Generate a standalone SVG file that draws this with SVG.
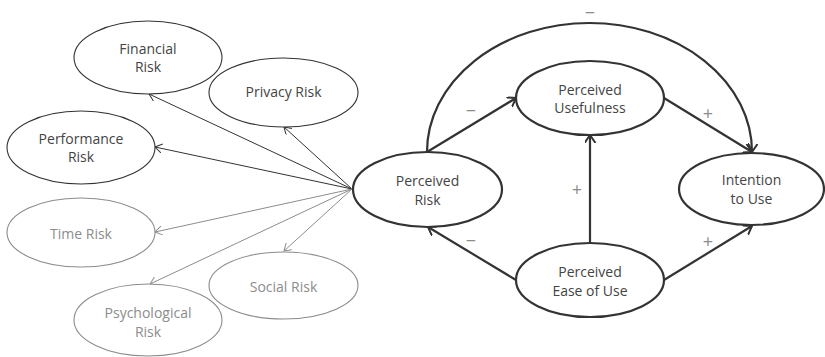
<svg xmlns="http://www.w3.org/2000/svg" width="825" height="357" viewBox="0 0 825 357">
<style>
text{font-family:"Open Sans","Noto Sans",sans-serif;font-size:14px;text-anchor:middle}
.dk{fill:#444}
.gy{fill:#8c8c8c}
.e1{fill:#fff;stroke:#333;stroke-width:1.1}
.e1g{fill:#fff;stroke:#8c8c8c;stroke-width:1.1}
.e2{fill:#fff;stroke:#333;stroke-width:2.2}
.l1{fill:none;stroke:#333;stroke-width:1}
.l1g{fill:none;stroke:#8c8c8c;stroke-width:1}
.l2{fill:none;stroke:#333;stroke-width:2.2}
.sg{fill:#8c8c8c;font-size:18px}
</style>
<defs>
<marker id="ad" markerUnits="userSpaceOnUse" markerWidth="12" markerHeight="12" refX="7" refY="4.5" orient="auto"><path d="M0,0 L7,4.5 L0,9" fill="none" stroke="#333" stroke-width="1"/></marker>
<marker id="ag" markerUnits="userSpaceOnUse" markerWidth="12" markerHeight="12" refX="7" refY="4.5" orient="auto"><path d="M0,0 L7,4.5 L0,9" fill="none" stroke="#8c8c8c" stroke-width="1"/></marker>
<marker id="at" markerUnits="userSpaceOnUse" markerWidth="14" markerHeight="14" refX="8" refY="5.5" orient="auto"><path d="M0,0 L8,5.5 L0,11" fill="none" stroke="#333" stroke-width="2"/></marker>
</defs>
<g id="connectors">
<line class="l1" x1="352" y1="189" x2="149" y2="94" marker-end="url(#ad)"/>
<line class="l1" x1="352" y1="189" x2="284" y2="127" marker-end="url(#ad)"/>
<line class="l1" x1="352" y1="189" x2="155" y2="147" marker-end="url(#ad)"/>
<line class="l1g" x1="352" y1="189" x2="155" y2="232" marker-end="url(#ag)"/>
<line class="l1g" x1="352" y1="189" x2="150" y2="284" marker-end="url(#ag)"/>
<line class="l1g" x1="352" y1="189" x2="284" y2="251" marker-end="url(#ag)"/>
<path class="l2" d="M427,152 A162.5,129 0 0 1 752,152" marker-end="url(#at)"/>
<line class="l2" x1="427" y1="152" x2="516" y2="98" marker-end="url(#at)"/>
<line class="l2" x1="664" y1="98" x2="752" y2="152" marker-end="url(#at)"/>
<line class="l2" x1="590" y1="243" x2="590" y2="135" marker-end="url(#at)"/>
<line class="l2" x1="516" y1="280" x2="428" y2="227" marker-end="url(#at)"/>
<line class="l2" x1="664" y1="280" x2="752" y2="226" marker-end="url(#at)"/>
<text class="sg" x="590" y="19">−</text>
<text class="sg" x="471" y="117">−</text>
<text class="sg" x="708" y="120">+</text>
<text class="sg" x="577" y="196">+</text>
<text class="sg" x="471" y="247">−</text>
<text class="sg" x="708" y="248">+</text>
</g>
<g id="financial"><ellipse class="e1" cx="148" cy="57.5" rx="74" ry="36.5"/><text class="dk" x="148" y="54">Financial</text><text class="dk" x="148" y="72">Risk</text></g>
<g id="privacy"><ellipse class="e1" cx="283.5" cy="92.5" rx="74.5" ry="34.5"/><text class="dk" x="283.5" y="97">Privacy Risk</text></g>
<g id="performance"><ellipse class="e1" cx="81" cy="147.5" rx="74" ry="36.5"/><text class="dk" x="81" y="143.5">Performance</text><text class="dk" x="81" y="162">Risk</text></g>
<g id="time"><ellipse class="e1g" cx="81" cy="232.5" rx="74" ry="34.5"/><text class="gy" x="81" y="239">Time Risk</text></g>
<g id="psychological"><ellipse class="e1g" cx="148" cy="320" rx="74" ry="36"/><text class="gy" x="148" y="318">Psychological</text><text class="gy" x="148" y="336.5">Risk</text></g>
<g id="social"><ellipse class="e1g" cx="283.5" cy="285.5" rx="74.5" ry="33.5"/><text class="gy" x="283.5" y="292">Social Risk</text></g>
<g id="perceived-risk"><ellipse class="e2" cx="427.5" cy="189.5" rx="74.5" ry="37.5"/><text class="dk" x="427.5" y="186">Perceived</text><text class="dk" x="427.5" y="205">Risk</text></g>
<g id="perceived-usefulness"><ellipse class="e2" cx="590" cy="98" rx="74" ry="37"/><text class="dk" x="590" y="95">Perceived</text><text class="dk" x="590" y="113">Usefulness</text></g>
<g id="intention"><ellipse class="e2" cx="751.5" cy="189" rx="72.5" ry="36"/><text class="dk" x="751.5" y="185">Intention</text><text class="dk" x="751.5" y="204">to Use</text></g>
<g id="ease-of-use"><ellipse class="e2" cx="590" cy="280" rx="74" ry="37"/><text class="dk" x="590" y="276.5">Perceived</text><text class="dk" x="590" y="295.5">Ease of Use</text></g>
</svg>
